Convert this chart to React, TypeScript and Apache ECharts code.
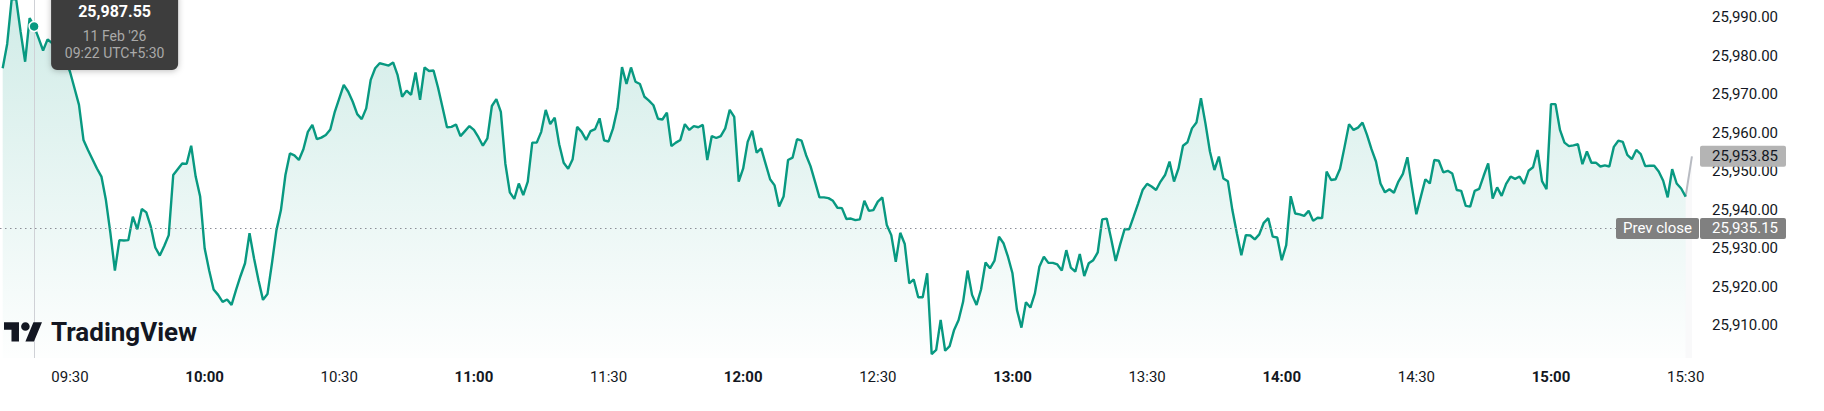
import React, { useEffect, useRef } from "react";
import * as echarts from "echarts";

// ---- data (NIFTY 50, 1-minute closes, 11 Feb '26, minute index from 09:15) ----
const prices: number[] = [
  25976.7, 25983.0, 25994.6, 25994.6, 25986.1, 25978.4, 25989.7, 25987.55, 25984.5, 25981.3,
  25984.2, 25983.2, 25982.5, 25981.0, 25978.8, 25975.8, 25971.5, 25967.2, 25958.1, 25955.5,
  25953.1, 25950.7, 25948.6, 25942.5, 25933.9, 25924.2, 25932.1, 25932.0, 25932.1, 25938.2,
  25934.9, 25940.2, 25939.3, 25935.6, 25930.2, 25928.1, 25930.6, 25933.4, 25949.0, 25950.5,
  25952.0, 25951.9, 25956.6, 25948.6, 25943.4, 25930.0, 25924.3, 25919.3, 25917.9, 25916.1,
  25916.7, 25915.3, 25919.2, 25922.8, 25926.1, 25933.9, 25927.4, 25921.7, 25916.6, 25918.1,
  25926.1, 25934.7, 25939.9, 25949.0, 25954.6, 25954.1, 25952.9, 25955.7, 25960.2, 25962.0,
  25958.3, 25958.7, 25959.4, 25960.8, 25965.4, 25968.9, 25972.4, 25970.6, 25968.0, 25964.8,
  25963.5, 25966.3, 25973.7, 25976.7, 25978.0, 25977.7, 25977.4, 25978.2, 25974.9, 25969.3,
  25970.9, 25969.8, 25975.6, 25968.5, 25976.9, 25976.0, 25976.1, 25971.7, 25966.6, 25961.4,
  25961.5, 25962.1, 25959.1, 25960.4, 25961.7, 25960.7, 25958.8, 25956.6, 25958.5, 25966.9,
  25968.7, 25965.4, 25952.0, 25944.5, 25942.8, 25946.8, 25943.8, 25947.3, 25957.4, 25957.4,
  25960.2, 25965.9, 25962.2, 25963.9, 25957.0, 25952.2, 25950.6, 25953.1, 25961.5, 25960.2,
  25958.1, 25960.4, 25960.9, 25963.7, 25958.0, 25957.7, 25961.1, 25966.3, 25977.0, 25972.6,
  25976.9, 25973.2, 25972.6, 25969.3, 25968.3, 25967.1, 25963.6, 25963.4, 25965.2, 25956.5,
  25957.4, 25958.1, 25962.2, 25960.7, 25961.7, 25961.4, 25962.0, 25952.9, 25959.1, 25958.6,
  25959.1, 25961.1, 25965.9, 25964.1, 25947.3, 25950.7, 25957.6, 25960.5, 25954.8, 25955.9,
  25951.9, 25947.9, 25946.3, 25940.8, 25943.4, 25952.9, 25953.5, 25958.3, 25957.9, 25954.2,
  25951.3, 25947.3, 25943.2, 25943.2, 25943.0, 25942.3, 25940.5, 25940.4, 25937.6, 25937.7,
  25937.3, 25937.5, 25942.3, 25939.7, 25939.9, 25942.1, 25943.2, 25936.0, 25933.4, 25926.5,
  25934.0, 25931.1, 25920.9, 25921.9, 25917.3, 25917.3, 25923.5, 25902.5, 25903.6, 25911.4,
  25903.4, 25904.6, 25908.8, 25911.4, 25916.1, 25924.2, 25917.9, 25915.3, 25919.3, 25926.3,
  25924.8, 25926.8, 25933.0, 25931.3, 25927.8, 25923.5, 25914.0, 25909.4, 25916.0, 25914.6,
  25918.3, 25925.2, 25927.8, 25926.2, 25926.2, 25925.8, 25924.2, 25929.5, 25925.0, 25923.9,
  25928.5, 25922.8, 25926.1, 25926.9, 25928.9, 25937.5, 25937.7, 25932.4, 25926.7, 25931.0,
  25935.0, 25934.9, 25938.2, 25941.6, 25945.1, 25946.7, 25946.0, 25945.1, 25947.3, 25949.0,
  25952.5, 25947.3, 25950.7, 25956.6, 25957.5, 25961.1, 25962.6, 25968.9, 25962.4, 25955.1,
  25950.3, 25953.8, 25948.1, 25947.4, 25939.9, 25933.9, 25928.2, 25933.4, 25933.3, 25932.3,
  25933.6, 25936.6, 25937.8, 25933.0, 25932.8, 25926.9, 25930.8, 25943.5, 25939.0, 25938.8,
  25938.4, 25939.7, 25937.1, 25937.9, 25937.8, 25949.9, 25947.7, 25947.9, 25950.6, 25956.3,
  25962.2, 25960.7, 25961.3, 25962.6, 25959.4, 25955.7, 25952.5, 25946.8, 25944.5, 25945.3,
  25944.4, 25947.3, 25949.3, 25953.6, 25946.0, 25938.8, 25943.4, 25947.9, 25946.8, 25952.9,
  25952.7, 25949.7, 25950.1, 25949.4, 25945.1, 25944.9, 25941.0, 25940.8, 25944.9, 25945.4,
  25948.8, 25952.0, 25942.9, 25945.8, 25943.6, 25946.7, 25948.6, 25948.0, 25948.6, 25946.7,
  25950.1, 25951.0, 25955.5, 25947.4, 25945.3, 25967.4, 25967.4, 25960.7, 25957.4, 25956.5,
  25956.7, 25957.0, 25951.8, 25955.1, 25952.2, 25952.2, 25951.2, 25951.5, 25951.2, 25956.3,
  25957.9, 25957.6, 25954.2, 25953.1, 25955.5, 25954.4, 25951.3, 25951.4, 25951.4, 25949.9,
  25947.5, 25943.2, 25950.5, 25946.8, 25945.5, 25943.4,
];

const timeLabelMinutes: number[] = [15, 45, 75, 105, 135, 165, 195, 225, 255, 285, 315, 345, 375];
const timeLabels: string[] = [
  "09:30", "10:00", "10:30", "11:00", "11:30", "12:00", "12:30",
  "13:00", "13:30", "14:00", "14:30", "15:00", "15:30",
];
const priceTicks: number[] = [25910, 25920, 25930, 25940, 25950, 25960, 25970, 25980, 25990];

const prevClose = 25935.15;
const lastPrice = 25953.85;
const liveTickMinute = 376.4;
const hoverIndex = 7;
const hoverDate = "11 Feb '26";
const hoverTime = "09:22 UTC+5:30";

const X_MIN = -0.6;
const X_MAX = 378.2;
const Y_MIN = 25901.52;
const Y_MAX = 25994.41;

const FONT = "Roboto, 'Liberation Sans', Arial, sans-serif";
const GREEN = "#089981";
const TEXT = "#131722";

const TV_LOGO =
  "M14 22H7V11H0V4h14v18zM28 22h-8l7.5-18h8L28 22zM16 8a4 4 0 1 0 8 0a4 4 0 1 0 -8 0z";
let logoRegistered = false;
function ensureLogo() {
  if (logoRegistered) return;
  echarts.graphic.registerShape("tvlogo", echarts.graphic.extendPath(TV_LOGO, {}) as any);
  logoRegistered = true;
}

const fmtPrice = (v: number) =>
  v.toLocaleString("en-US", { minimumFractionDigits: 2, maximumFractionDigits: 2 });

export default function App() {
  const ref = useRef<HTMLDivElement>(null);

  useEffect(() => {
    if (!ref.current) return;
    ensureLogo();
    const chart = echarts.init(ref.current, undefined, { renderer: "svg" });

    const option: any = {
      animation: false,
      backgroundColor: "#ffffff",
      textStyle: { fontFamily: FONT },
      grid: { left: 0, right: 124, top: 0, bottom: 53, containLabel: false },
      xAxis: {
        type: "value",
        min: X_MIN,
        max: X_MAX,
        axisLine: { show: false },
        axisTick: { show: false },
        splitLine: { show: false },
        axisLabel: {
          customValues: timeLabelMinutes,
          margin: 11,
          formatter: (v: number) => {
            const i = timeLabelMinutes.indexOf(Math.round(v));
            if (i < 0) return "";
            const t = timeLabels[i];
            return t.endsWith(":00") ? `{b|${t}}` : `{n|${t}}`;
          },
          rich: {
            b: { fontSize: 15, fontWeight: "bold", color: TEXT, fontFamily: FONT },
            n: { fontSize: 15, fontWeight: "normal", color: TEXT, fontFamily: FONT },
          },
        },
      },
      yAxis: {
        type: "value",
        position: "right",
        min: Y_MIN,
        max: Y_MAX,
        axisLine: { show: false },
        axisTick: { show: false },
        splitLine: { show: false },
        axisLabel: {
          customValues: priceTicks,
          align: "right",
          margin: 78,
          fontSize: 15,
          color: TEXT,
          fontFamily: FONT,
          formatter: (v: number) => fmtPrice(v),
        },
      },
      series: [
        {
          type: "line",
          data: prices.map((p, i) => [i, p]),
          symbol: "none",
          showSymbol: false,
          lineStyle: { color: GREEN, width: 2.4 },
          areaStyle: {
            color: new echarts.graphic.LinearGradient(0, 0, 0, 1, [
              { offset: 0, color: "rgba(8,153,129,0.27)" },
              { offset: 1, color: "rgba(8,153,129,0.01)" },
            ]),
          },
          z: 3,
          markLine: {
            silent: true,
            symbol: ["none", "none"],
            label: { show: false },
            data: [
              {
                yAxis: prevClose,
                lineStyle: { color: "#8a8d96", width: 1, type: [1.5, 3.5] },
              },
              {
                xAxis: hoverIndex,
                lineStyle: { color: "#cfd1d6", width: 1, type: "solid" },
              },
            ],
          },
          markPoint: {
            silent: true,
            symbol: "circle",
            symbolSize: 10,
            label: { show: false },
            itemStyle: { color: GREEN, borderColor: "#ffffff", borderWidth: 1.5 },
            data: [{ coord: [hoverIndex, prices[hoverIndex]] }],
          },
        },
        {
          type: "line",
          data: [
            [prices.length - 1, prices[prices.length - 1]],
            [liveTickMinute, lastPrice],
          ],
          symbol: "none",
          showSymbol: false,
          lineStyle: { color: "#b8bbc2", width: 2 },
          areaStyle: { color: "rgba(120,123,134,0.06)" },
          z: 2,
        },
      ],
    };
    chart.setOption(option);

    const [hx] = chart.convertToPixel({ gridIndex: 0 }, [hoverIndex, prices[hoverIndex]]) as number[];
    const pcY = chart.convertToPixel({ yAxisIndex: 0 }, prevClose) as number;
    const lastY = chart.convertToPixel({ yAxisIndex: 0 }, lastPrice) as number;
    const gridRight = chart.convertToPixel({ xAxisIndex: 0 }, X_MAX) as number;
    const gridBottom = chart.convertToPixel({ yAxisIndex: 0 }, Y_MIN) as number;

    const boxH = 21;
    const tipLeft = hx + 17;
    const tipW = 127;

    const txt = (o: any) => ({
      type: "text",
      z: 101,
      x: o.x,
      y: o.y,
      style: {
        text: o.text,
        fill: o.fill,
        fontSize: o.size,
        fontWeight: o.weight || "normal",
        fontFamily: FONT,
        align: o.align || "center",
        textAlign: o.align || "center",
        verticalAlign: "middle",
        textVerticalAlign: "middle",
      },
    });

    chart.setOption({
      graphic: [
        // tooltip
        {
          type: "rect",
          z: 100,
          shape: { x: tipLeft, y: -10, width: tipW, height: 80, r: 6 },
          style: { fill: "#3d3d3d", shadowBlur: 6, shadowColor: "rgba(0,0,0,0.25)", shadowOffsetY: 1 },
        },
        txt({ x: tipLeft + tipW / 2, y: 11.5, text: fmtPrice(prices[hoverIndex]), fill: "#ffffff", size: 16, weight: "bold" }),
        txt({ x: tipLeft + tipW / 2, y: 36, text: hoverDate, fill: "#a9a9a9", size: 14 }),
        txt({ x: tipLeft + tipW / 2, y: 53, text: hoverTime, fill: "#a9a9a9", size: 14 }),
        // prev close label
        {
          type: "rect",
          z: 100,
          shape: { x: gridRight - 84, y: pcY - boxH / 2, width: 83, height: boxH, r: 2 },
          style: { fill: "#808080" },
        },
        txt({ x: gridRight - 42.5, y: pcY, text: "Prev close", fill: "#ffffff", size: 15 }),
        {
          type: "rect",
          z: 100,
          shape: { x: gridRight, y: pcY - boxH / 2, width: 86, height: boxH, r: 2 },
          style: { fill: "#808080" },
        },
        txt({ x: gridRight + 78, y: pcY, text: fmtPrice(prevClose), fill: "#ffffff", size: 15, align: "right" }),
        // last price label
        {
          type: "rect",
          z: 100,
          shape: { x: gridRight, y: lastY - boxH / 2, width: 86, height: boxH, r: 2 },
          style: { fill: "#b4b4b4" },
        },
        txt({ x: gridRight + 78, y: lastY, text: fmtPrice(lastPrice), fill: TEXT, size: 15, align: "right" }),
        // TradingView watermark
        {
          type: "tvlogo",
          z: 100,
          x: 4,
          y: gridBottom - 40,
          scaleX: 1.07,
          scaleY: 1.07,
          style: { fill: TEXT },
        },
        txt({ x: 51, y: gridBottom - 26.5, text: "TradingView", fill: TEXT, size: 26, weight: "bold", align: "left" }),
      ],
    });

    return () => chart.dispose();
  }, []);

  return (
    <div
      ref={ref}
      style={{ position: "absolute", left: 0, top: 0, width: 1824, height: 411 }}
    />
  );
}
